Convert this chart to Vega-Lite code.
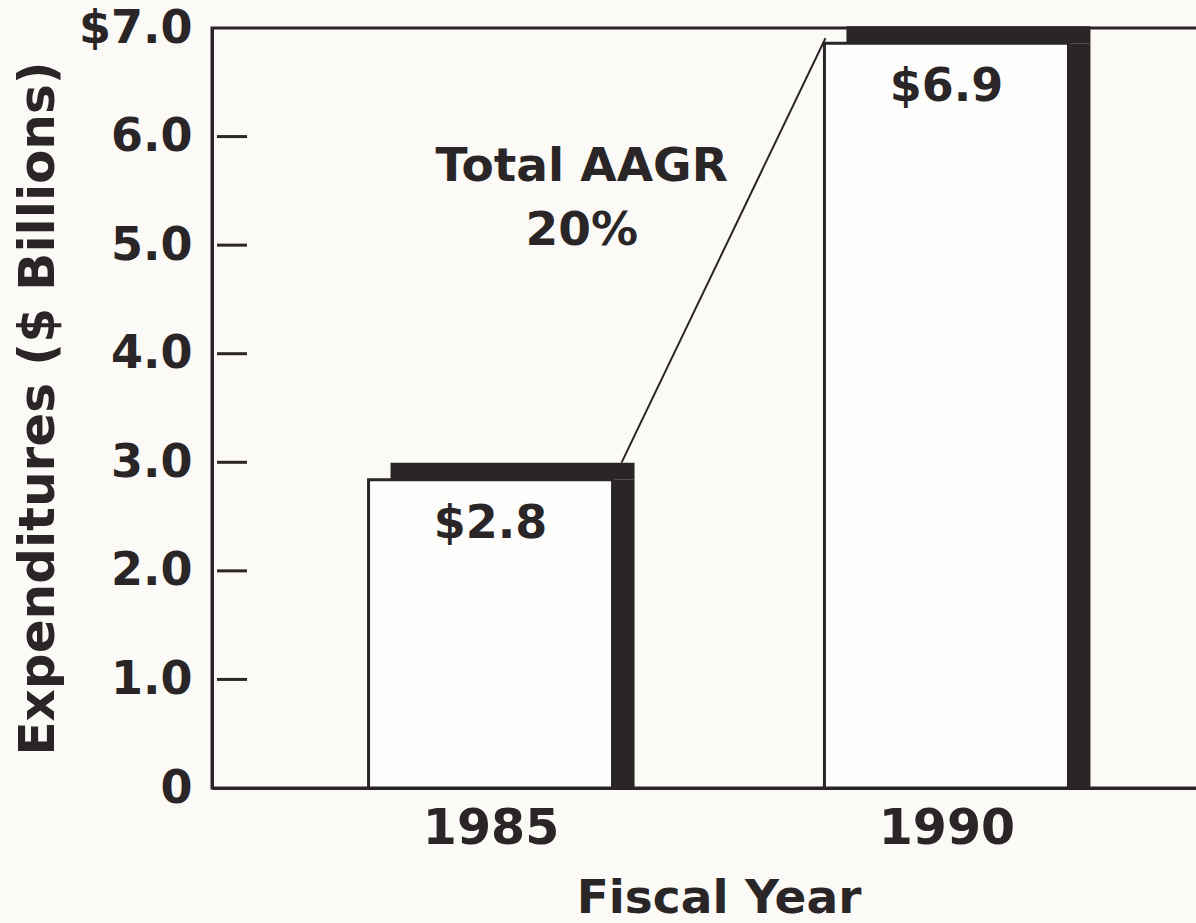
{
  "$schema": "https://vega.github.io/schema/vega-lite/v6.json",
  "width": 1013,
  "height": 760,
  "autosize": {"type": "none"},
  "padding": {"left": 212, "top": 28, "right": 0, "bottom": 135},
  "background": "#fbfaf6",
  "config": {
    "view": {"stroke": "#2a2526", "strokeWidth": 3},
    "font": "DejaVu Sans",
    "axis": {
      "grid": false,
      "domainColor": "#2a2526",
      "domainWidth": 3,
      "labelColor": "#2a2526",
      "titleColor": "#2a2526",
      "labelFont": "DejaVu Sans",
      "titleFont": "DejaVu Sans",
      "labelFontWeight": "bold",
      "titleFontWeight": "bold",
      "labelFlush": false,
      "labelOverlap": false
    },
    "axisY": {
      "ticks": false,
      "labelFontSize": 46,
      "labelPadding": 20,
      "titleFontSize": 50,
      "titlePadding": 15
    },
    "axisX": {
      "ticks": false,
      "labelFontSize": 49,
      "labelPadding": 16,
      "titleFontSize": 47,
      "titlePadding": 22
    }
  },
  "datasets": {
    "bars": [
      {"year": 1985, "value": 2.84, "label": "$2.8"},
      {"year": 1990, "value": 6.86, "label": "$6.9"}
    ],
    "growth": [
      {"from": 1985, "to": 1990, "fromValue": 2.84, "toValue": 6.86}
    ],
    "ticks": [
      {"tick": 1}, {"tick": 2}, {"tick": 3}, {"tick": 4}, {"tick": 5}, {"tick": 6}
    ]
  },
  "layer": [
    {
      "data": {"name": "bars"},
      "mark": {"type": "bar", "width": 244, "xOffset": 22, "color": "#2a2526"},
      "encoding": {
        "x": {
          "field": "year", "type": "quantitative", "title": "Fiscal Year",
          "scale": {"domain": [1982, 1993], "nice": false, "zero": false},
          "axis": {"values": [1985, 1990], "format": "d"}
        },
        "y": {
          "field": "value", "type": "quantitative", "title": "Expenditures ($ Billions)",
          "scale": {"domain": [0, 7], "nice": false},
          "axis": {
            "values": [0, 1, 2, 3, 4, 5, 6, 7],
            "labelExpr": "datum.value == 7 ? '$7.0' : datum.value == 0 ? '0' : format(datum.value, '.1f')"
          }
        }
      }
    },
    {
      "data": {"name": "ticks"},
      "mark": {"type": "rule", "strokeWidth": 3, "x2Offset": 30, "color": "#2a2526"},
      "encoding": {
        "x": {"datum": 1982, "type": "quantitative", "title": "Fiscal Year"},
        "x2": {"datum": 1982},
        "y": {"field": "tick", "type": "quantitative", "title": "Expenditures ($ Billions)"}
      }
    },
    {
      "data": {"name": "bars"},
      "mark": {"type": "rule", "strokeWidth": 17, "strokeCap": "butt", "xOffset": -100, "x2Offset": 144, "yOffset": -8.5, "y2Offset": -8.5, "color": "#2a2526"},
      "encoding": {
        "x": {"field": "year", "type": "quantitative", "title": "Fiscal Year"},
        "x2": {"field": "year"},
        "y": {"field": "value", "type": "quantitative", "title": "Expenditures ($ Billions)"}
      }
    },
    {
      "data": {"name": "bars"},
      "mark": {"type": "bar", "width": 244, "fill": "#fdfdfb", "stroke": "#2a2526", "strokeWidth": 3},
      "encoding": {
        "x": {"field": "year", "type": "quantitative", "title": "Fiscal Year"},
        "y": {"field": "value", "type": "quantitative", "title": "Expenditures ($ Billions)"}
      }
    },
    {
      "data": {"name": "bars"},
      "mark": {"type": "text", "dy": 58, "baseline": "alphabetic", "align": "center", "fontSize": 46, "fontWeight": "bold", "color": "#2a2526"},
      "encoding": {
        "x": {"field": "year", "type": "quantitative", "title": "Fiscal Year"},
        "y": {"field": "value", "type": "quantitative", "title": "Expenditures ($ Billions)"},
        "text": {"field": "label"}
      }
    },
    {
      "data": {"name": "growth"},
      "mark": {"type": "rule", "color": "#2a2526", "strokeWidth": 2, "xOffset": 131, "yOffset": -17, "x2Offset": -121, "y2Offset": -5},
      "encoding": {
        "x": {"field": "from", "type": "quantitative", "title": "Fiscal Year"},
        "x2": {"field": "to"},
        "y": {"field": "fromValue", "type": "quantitative", "title": "Expenditures ($ Billions)"},
        "y2": {"field": "toValue"}
      }
    },
    {
      "data": {"values": [{}]},
      "mark": {"type": "text", "fontSize": 47, "fontWeight": "bold", "lineHeight": 64, "baseline": "alphabetic", "align": "center", "color": "#2a2526"},
      "encoding": {
        "x": {"datum": 1986, "type": "quantitative"},
        "y": {"datum": 5.59, "type": "quantitative"},
        "text": {"value": ["Total AAGR", "20%"]}
      }
    }
  ]
}
